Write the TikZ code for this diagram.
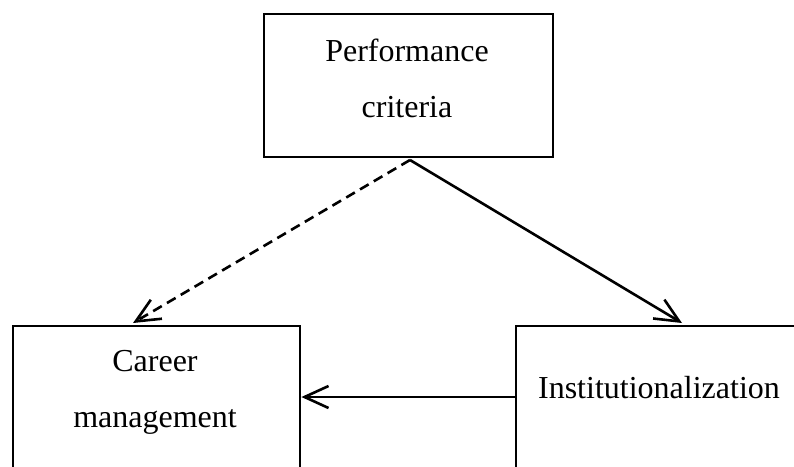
\documentclass[tikz,border=0pt]{standalone}
\usepackage{fontspec}
\setmainfont{Liberation Serif}
\usetikzlibrary{arrows.meta}
\tikzset{
  font={\fontsize{32pt}{56pt}\selectfont},
  box/.style={draw=black, line width=2.4pt, rectangle, inner sep=0pt},
  txt/.style={align=center, inner sep=0pt},
  link/.style={line width=2.6pt, -{Straight Barb[length=24pt, width=22pt, line width=2.6pt]}}}

\begin{document}
\begin{tikzpicture}[x=1pt, y=-1pt]
%% page size of the reference, then cut the two lower boxes at the bottom and right
\useasboundingbox (0,0) rectangle (794,466);
\clip (0,0) rectangle (794,466);
%% the three boxes
    \node[box, minimum width=289pt, minimum height=143pt, anchor=north west] (perf) at (263,13) {};
    \node[box, minimum width=287pt, minimum height=220pt, anchor=north west] (career) at (12,325) {};
    \node[box, minimum width=320pt, minimum height=220pt, anchor=north west] (inst) at (515,325) {};
%% texts
    \node[txt] (perftxt) at (407,78) {Performance\\criteria};
    \node[txt] (careertxt) at (155,392) {Career\\management};
    \node[txt, anchor=base] (insttxt) at (659,398) {Institutionalization};
%% arrow end points
    \coordinate (fork) at (410,160);
    \coordinate (careertop) at (133,323);
    \coordinate (insttop) at (682,323);
    \coordinate (instleft) at (inst.west |- 0,397);
    \coordinate (careerright) at (career.east |- 0,397);
%% arrows
    \draw[link, dash pattern=on 10pt off 6pt] (fork) -- (careertop);
    \draw[link] (fork) -- (insttop);
    \draw[link] (instleft) -- (careerright);
%\draw[help lines, step=50] (0,0) grid (794,466);
\end{tikzpicture}
\end{document}
